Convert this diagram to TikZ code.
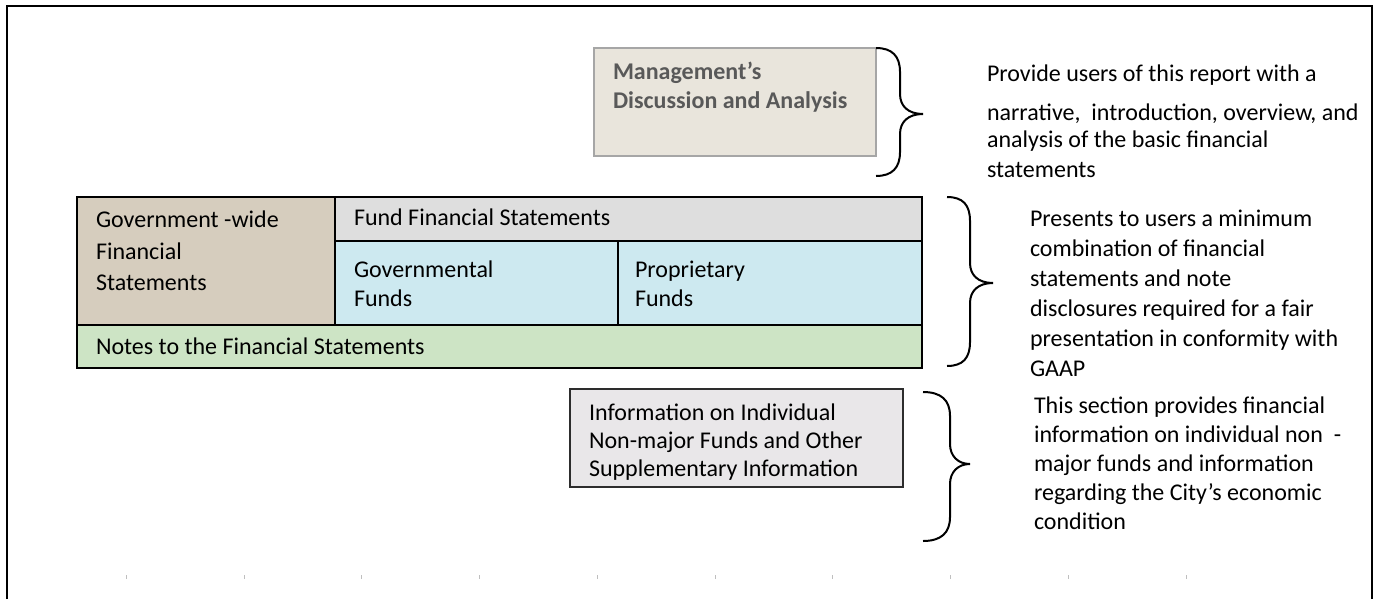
\documentclass[tikz,border=0pt]{standalone}
\usepackage{fontspec}
\setmainfont{Carlito}
\usetikzlibrary{fit}
\definecolor{mdafill}{RGB}{233,229,220}
\definecolor{mdaline}{RGB}{166,166,166}
\definecolor{mdatext}{RGB}{89,89,89}
\definecolor{gwfill}{RGB}{214,205,190}
\definecolor{hdrfill}{RGB}{222,222,222}
\definecolor{bluefill}{RGB}{205,233,240}
\definecolor{greenfill}{RGB}{205,228,197}
\definecolor{infofill}{RGB}{233,231,233}
\definecolor{infoline}{RGB}{45,45,45}
\begin{document}
\begin{tikzpicture}[x=0.5pt,y=-0.5pt]
\tikzset{
  cell/.style={draw=black, line width=1pt, inner sep=0pt, outer sep=0pt},
  txt/.style={anchor=base west, inner sep=0pt, outer sep=0pt, font=\fontsize{12}{14.6}\selectfont},
  mdatxt/.style={txt, font=\fontsize{12}{14.6}\selectfont\bfseries, text=mdatext},
  bracepath/.style={draw=black, line width=1pt},
  tick/.style={draw=black!25, line width=0.5pt},
}
\useasboundingbox (0,0) rectangle (1379,599);
% outer frame
\draw[line width=1pt] (7,599) -- (7,6) -- (1372,6) -- (1372,599);

% MD&A box
\node[cell, draw=mdaline, fill=mdafill, fit={(594,48) (876,156)}] (mda) {};
\node[mdatxt] (mda1) at (613,80) {Management’s};
\node[mdatxt] (mda2) at (613,108) {Discussion and Analysis};

% main table
\node[cell, fill=gwfill, fit={(77,197) (335,325)}] (gw) {};
\node[cell, fill=hdrfill, fit={(335,197) (922,241)}] (hdr) {};
\node[cell, fill=bluefill, fit={(335,241) (618,325)}] (gov) {};
\node[cell, fill=bluefill, fit={(618,241) (922,325)}] (prop) {};
\node[cell, fill=greenfill, fit={(77,325) (922,368)}] (notes) {};

\node[txt] (gw1) at (96,227) {Government -wide};
\node[txt] (gw2) at (96,259) {Financial};
\node[txt] (gw3) at (96,290) {Statements};
\node[txt] (hdr1) at (354,225) {Fund Financial Statements};
\node[txt] (gov1) at (354,277) {Governmental};
\node[txt] (gov2) at (354,306) {Funds};
\node[txt] (prop1) at (635,277) {Proprietary};
\node[txt] (prop2) at (635,306) {Funds};
\node[txt] (notes1) at (96,354) {Notes to the Financial Statements};

% info box
\node[cell, draw=infoline, fill=infofill, fit={(570,389) (903,487)}] (info) {};
\node[txt] (info1) at (589,420) {Information on Individual};
\node[txt] (info2) at (589,448) {Non-major Funds and Other};
\node[txt] (info3) at (589,476) {Supplementary Information};

% braces
\draw[bracepath] (876,48) .. controls (892,48) and (900,56) .. (900,72) -- (900,94)
  .. controls (900,106) and (908,114) .. (923,114)
  .. controls (908,114) and (900,122) .. (900,134) -- (900,152)
  .. controls (900,168) and (892,176) .. (876,176);
\draw[bracepath] (947,197) .. controls (963,197) and (970,205) .. (970,221) -- (970,263)
  .. controls (970,275) and (978,283) .. (993,283)
  .. controls (978,283) and (970,291) .. (970,303) -- (970,342)
  .. controls (970,358) and (963,366) .. (947,366);
\draw[bracepath] (923,392) .. controls (941,392) and (950,400) .. (950,416) -- (950,444)
  .. controls (950,456) and (958,464) .. (970,464)
  .. controls (958,464) and (950,472) .. (950,484) -- (950,517)
  .. controls (950,533) and (941,541) .. (923,541);

% descriptions
\node[txt] (d1a) at (987,82) {Provide users of this report with a};
\node[txt] (d1b) at (987,120) {narrative,\ \ introduction, overview, and};
\node[txt] (d1c) at (987,148) {analysis of the basic financial};
\node[txt] (d1d) at (987,177) {statements};

\node[txt] (d2a) at (1030,226) {Presents to users a minimum};
\node[txt] (d2b) at (1030,256) {combination of financial};
\node[txt] (d2c) at (1030,286) {statements and note};
\node[txt] (d2d) at (1030,316) {disclosures required for a fair};
\node[txt] (d2e) at (1030,346) {presentation in conformity with};
\node[txt] (d2f) at (1030,376) {GAAP};

\node[txt] (d3a) at (1034,413) {This section provides financial};
\node[txt] (d3b) at (1034,442) {information on individual non\ \ -};
\node[txt] (d3c) at (1034,471) {major funds and information};
\node[txt] (d3d) at (1034,500) {regarding the City’s economic};
\node[txt] (d3e) at (1034,529) {condition};

% faint ticks
\foreach \tx in {126,244,361,479,597,715,832,950,1068,1186}
  \draw[tick] (\tx,575) -- (\tx,579);
\end{tikzpicture}
\end{document}
